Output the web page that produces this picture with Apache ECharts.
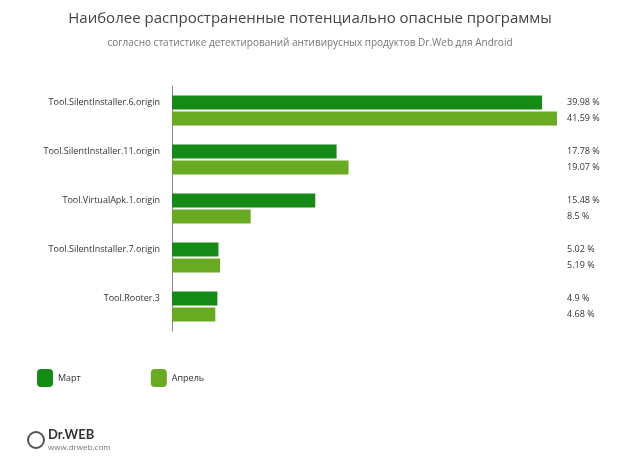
<!DOCTYPE html>
<html>
<head>
<meta charset="utf-8">
<script src="https://cdn.jsdelivr.net/npm/echarts@6/dist/echarts.min.js"></script>
<style>html,body{margin:0;background:#fff}#main{width:620px;height:467px}</style>
</head>
<body>
<div id="main"></div>
<script>
var categories = ['Tool.SilentInstaller.6.origin', 'Tool.SilentInstaller.11.origin', 'Tool.VirtualApk.1.origin', 'Tool.SilentInstaller.7.origin', 'Tool.Rooter.3'];
var march = [39.98, 17.78, 15.48, 5.02, 4.9];
var april = [41.59, 19.07, 8.5, 5.19, 4.68];
var seriesNames = ['Март', 'Апрель'];

// interleaved value labels for the right column
var valueLabels = [];
for (var i = 0; i < categories.length; i++) {
	valueLabels.push(march[i] + ' %');
	valueLabels.push(april[i] + ' %');
}

var myChart = echarts.init(document.getElementById('main'));
var option = {
	title: {
		text: 'Наиболее распространенные потенциально опасные программы',
		subtext: 'согласно статистике детектирований антивирусных продуктов Dr.Web для Android',
		left: 'center', top: 6, itemGap: 12,
		textStyle: { fontFamily: 'Open Sans', fontSize: 15, fontWeight: 'normal', color: '#444' },
		subtextStyle: { fontFamily: 'Open Sans', fontSize: 10, color: '#777' }
	},
	legend: {
		data: seriesNames, left: 32, top: 364, itemWidth: 16, itemHeight: 18, itemGap: 70,
		textStyle: { fontFamily: 'Open Sans', fontSize: 9, color: '#333' }
	},
	grid: { left: 172, right: 63, top: 86, height: 245 },
	xAxis: { type: 'value', min: 0, max: 41.59, show: false },
	yAxis: [{
		type: 'category', data: categories, inverse: true,
		axisTick: { show: false },
		axisLine: { lineStyle: { color: '#888' } },
		axisLabel: { fontFamily: 'Open Sans', fontSize: 9, color: '#333', margin: 12, verticalAlign: 'bottom', padding: [0, 0, 4, 0] }
	}, {
		type: 'category', data: valueLabels, inverse: true, position: 'right',
		axisTick: { show: false }, axisLine: { show: false },
		axisLabel: {
			fontFamily: 'Open Sans', fontSize: 9, color: '#333', margin: 10,
			formatter: function (v, idx) { return idx % 2 === 0 ? '{m|' + v + '}' : '{a|' + v + '}'; },
			rich: {
				m: { fontFamily: 'Open Sans', fontSize: 9, color: '#333', padding: [9, 0, 0, 0] },
				a: { fontFamily: 'Open Sans', fontSize: 9, color: '#333', padding: [0, 0, 9, 0] }
			}
		}
	}],
	series: [
		{ name: seriesNames[0], type: 'bar', data: march, barWidth: 14, barGap: '15%', itemStyle: { color: '#168a16' } },
		{ name: seriesNames[1], type: 'bar', data: april, barWidth: 14, itemStyle: { color: '#6aaa22' } }
	],
	graphic: [
		{ type: 'text', left: 48, top: 428, style: { text: 'Dr.WEB', font: 'bold 13px Lato', fill: '#333' } },
		{ type: 'text', left: 48, top: 444, style: { text: 'www.drweb.com', font: '8px Open Sans', fill: '#777' } },
		{ type: 'circle', shape: { cx: 36, cy: 440, r: 8 }, style: { fill: 'none', stroke: '#555', lineWidth: 2 } }
	]
};
myChart.setOption(option);
</script>
</body>
</html>
